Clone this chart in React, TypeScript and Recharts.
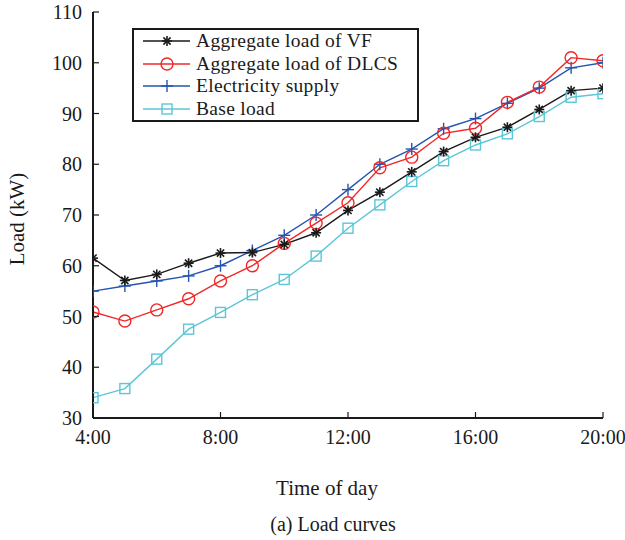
import React from 'react';
import { LineChart, Line, XAxis, YAxis } from 'recharts';

// hours of the day (4:00 .. 20:00)
const hours = [4, 5, 6, 7, 8, 9, 10, 11, 12, 13, 14, 15, 16, 17, 18, 19, 20];
const vfLoad = [61.5, 57.1, 58.3, 60.5, 62.5, 62.6, 64.2, 66.5, 70.9, 74.5, 78.5, 82.5, 85.3, 87.3, 90.8, 94.5, 95.0];
const dlcsLoad = [50.9, 49.1, 51.3, 53.5, 57.0, 60.0, 64.4, 68.4, 72.4, 79.3, 81.4, 86.1, 87.1, 92.2, 95.2, 101.0, 100.4];
const supply = [55.0, 56.0, 57.0, 58.0, 60.0, 63.0, 66.0, 70.0, 75.0, 80.0, 83.0, 87.0, 89.0, 92.0, 95.0, 99.0, 100.0];
const baseLoad = [34.0, 35.8, 41.6, 47.5, 50.8, 54.3, 57.3, 61.9, 67.4, 72.0, 76.6, 80.7, 83.8, 86.0, 89.4, 93.2, 93.9];

const xTicks = [4, 8, 12, 16, 20];
const yTicks = [30, 40, 50, 60, 70, 80, 90, 100, 110];

const data = hours.map((h, i) => ({
  t: h,
  vf: vfLoad[i],
  dlcs: dlcsLoad[i],
  supply: supply[i],
  base: baseLoad[i],
}));

const FONT = '"Liberation Serif", "Times New Roman", serif';
const BLACK = '#1a1a1a';
const RED = '#f02828';
const BLUE = '#2454b0';
const CYAN = '#5cc6d6';

const StarDot = (props: any) => {
  const { cx, cy } = props;
  if (cx == null || cy == null) return null;
  const r = 5;
  const d = 3.6;
  return (
    <g stroke={BLACK} strokeWidth={1.6}>
      <line x1={cx - r} y1={cy} x2={cx + r} y2={cy} />
      <line x1={cx} y1={cy - r} x2={cx} y2={cy + r} />
      <line x1={cx - d} y1={cy - d} x2={cx + d} y2={cy + d} />
      <line x1={cx - d} y1={cy + d} x2={cx + d} y2={cy - d} />
    </g>
  );
};

const CircleDot = (props: any) => {
  const { cx, cy } = props;
  if (cx == null || cy == null) return null;
  return <circle cx={cx} cy={cy} r={6} fill="none" stroke={RED} strokeWidth={1.4} />;
};

const PlusDot = (props: any) => {
  const { cx, cy } = props;
  if (cx == null || cy == null) return null;
  const r = 6;
  return (
    <g stroke={BLUE} strokeWidth={1.4}>
      <line x1={cx - r} y1={cy} x2={cx + r} y2={cy} />
      <line x1={cx} y1={cy - r} x2={cx} y2={cy + r} />
    </g>
  );
};

const SquareDot = (props: any) => {
  const { cx, cy } = props;
  if (cx == null || cy == null) return null;
  return <rect x={cx - 5} y={cy - 5} width={10} height={10} fill="none" stroke={CYAN} strokeWidth={1.4} />;
};

const BottomTick = (props: any) => {
  const { x, y, payload } = props;
  return (
    <g>
      <line x1={x} y1={y} x2={x} y2={y - 6} stroke={BLACK} strokeWidth={1.2} />
      <text x={x} y={y + 26} textAnchor="middle" fontFamily={FONT} fontSize={20} fill={BLACK}>
        {`${payload.value}:00`}
      </text>
    </g>
  );
};

const TopTick = (props: any) => {
  const { x, y } = props;
  return <line x1={x} y1={y} x2={x} y2={y + 6} stroke={BLACK} strokeWidth={1.2} />;
};

const LeftTick = (props: any) => {
  const { x, y, payload } = props;
  return (
    <g>
      <line x1={x} y1={y} x2={x + 6} y2={y} stroke={BLACK} strokeWidth={1.2} />
      <text x={x - 11} y={y + 7} textAnchor="end" fontFamily={FONT} fontSize={20} fill={BLACK}>
        {payload.value}
      </text>
    </g>
  );
};

const RightTick = (props: any) => {
  const { x, y } = props;
  return <line x1={x} y1={y} x2={x - 6} y2={y} stroke={BLACK} strokeWidth={1.2} />;
};

const legendItems = [
  { name: 'Aggregate load of VF', color: BLACK, dot: StarDot },
  { name: 'Aggregate load of DLCS', color: RED, dot: CircleDot },
  { name: 'Electricity supply', color: BLUE, dot: PlusDot },
  { name: 'Base load', color: CYAN, dot: SquareDot },
];

const LegendBox = () => (
  <div
    style={{
      position: 'absolute',
      left: 132,
      top: 28,
      width: 283,
      height: 90,
      border: `2px solid ${BLACK}`,
      background: '#fff',
      paddingTop: 0,
      fontFamily: FONT,
      fontSize: 19.5,
      letterSpacing: 0.3,
      color: BLACK,
    }}
  >
    {legendItems.map((it) => {
      const Dot = it.dot;
      return (
        <div key={it.name} style={{ display: 'flex', alignItems: 'center', height: 22.5, lineHeight: '22.5px' }}>
          <svg width={62} height={22} style={{ flex: 'none' }}>
            <line x1={9} y1={11} x2={56} y2={11} stroke={it.color} strokeWidth={1.4} />
            <Dot cx={33} cy={11} />
          </svg>
          <span style={{ whiteSpace: 'nowrap' }}>{it.name}</span>
        </div>
      );
    })}
  </div>
);

export default function App() {
  return (
    <div style={{ position: 'absolute', left: 0, top: 0, width: 625, height: 540, background: '#fff' }}>
      <LineChart width={625} height={540} data={data} margin={{ top: 12, right: 22, bottom: 92, left: 0 }}>
        <XAxis
          dataKey="t"
          type="number"
          domain={[4, 20]}
          ticks={xTicks}
          interval={0}
          allowDataOverflow
          height={30}
          tickSize={0}
          tickMargin={0}
          tickLine={false}
          tick={<BottomTick />}
          axisLine={{ stroke: BLACK, strokeWidth: 2 }}
        />
        <XAxis
          xAxisId="top"
          orientation="top"
          dataKey="t"
          type="number"
          domain={[4, 20]}
          ticks={xTicks}
          interval={0}
          allowDataOverflow
          height={0}
          tickSize={0}
          tickMargin={0}
          tickLine={false}
          tick={<TopTick />}
          axisLine={{ stroke: BLACK, strokeWidth: 2 }}
        />
        <YAxis
          type="number"
          domain={[30, 110]}
          ticks={yTicks}
          interval={0}
          allowDataOverflow
          width={93}
          tickSize={0}
          tickMargin={0}
          tickLine={false}
          tick={<LeftTick />}
          axisLine={{ stroke: BLACK, strokeWidth: 2 }}
        />
        <YAxis
          yAxisId="right"
          orientation="right"
          type="number"
          domain={[30, 110]}
          ticks={yTicks}
          interval={0}
          allowDataOverflow
          width={0}
          tickSize={0}
          tickMargin={0}
          tickLine={false}
          tick={<RightTick />}
          axisLine={{ stroke: BLACK, strokeWidth: 2 }}
        />
        <Line dataKey="base" stroke={CYAN} strokeWidth={1.4} dot={<SquareDot />} isAnimationActive={false} />
        <Line dataKey="supply" stroke={BLUE} strokeWidth={1.4} dot={<PlusDot />} isAnimationActive={false} />
        <Line dataKey="dlcs" stroke={RED} strokeWidth={1.4} dot={<CircleDot />} isAnimationActive={false} />
        <Line dataKey="vf" stroke={BLACK} strokeWidth={1.4} dot={<StarDot />} isAnimationActive={false} />
      </LineChart>
      <LegendBox />
      <div
        style={{
          position: 'absolute',
          left: 17,
          top: 219,
          transform: 'translate(-50%, -50%) rotate(-90deg)',
          fontFamily: FONT,
          fontSize: 21,
          color: BLACK,
          whiteSpace: 'nowrap',
        }}
      >
        Load (kW)
      </div>
      <div
        style={{
          position: 'absolute',
          left: 327,
          top: 488,
          transform: 'translate(-50%, -50%)',
          fontFamily: FONT,
          fontSize: 21,
          color: BLACK,
          whiteSpace: 'nowrap',
        }}
      >
        Time of day
      </div>
      <div
        style={{
          position: 'absolute',
          left: 333,
          top: 524,
          transform: 'translate(-50%, -50%)',
          fontFamily: FONT,
          fontSize: 20,
          color: BLACK,
          whiteSpace: 'nowrap',
        }}
      >
        (a) Load curves
      </div>
    </div>
  );
}
